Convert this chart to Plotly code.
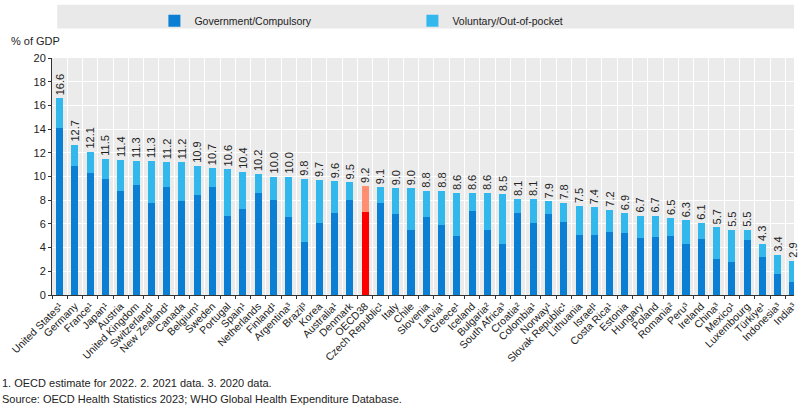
import plotly.graph_objects as go

countries = ["United States¹", "Germany", "France¹", "Japan¹", "Austria", "United Kingdom",
             "Switzerland¹", "New Zealand¹", "Canada", "Belgium¹", "Sweden", "Portugal",
             "Spain¹", "Netherlands", "Finland¹", "Argentina³", "Brazil³", "Korea",
             "Australia¹", "Denmark", "OECD38", "Czech Republic¹", "Italy", "Chile",
             "Slovenia", "Latvia¹", "Greece¹", "Iceland", "Bulgaria²", "South Africa³",
             "Croatia²", "Colombia¹", "Norway¹", "Slovak Republic¹", "Lithuania", "Israel¹",
             "Costa Rica¹", "Estonia", "Hungary", "Poland", "Romania²", "Peru³", "Ireland",
             "China³", "Mexico¹", "Luxembourg", "Türkiye¹", "Indonesia³", "India³"]

total = [16.6, 12.7, 12.1, 11.5, 11.4, 11.3, 11.3, 11.2, 11.2, 10.9, 10.7, 10.6,
         10.4, 10.2, 10.0, 10.0, 9.8, 9.7, 9.6, 9.5, 9.2, 9.1, 9.0, 9.0,
         8.8, 8.8, 8.6, 8.6, 8.6, 8.5, 8.1, 8.1, 7.9, 7.8, 7.5, 7.4,
         7.2, 6.9, 6.7, 6.7, 6.5, 6.3, 6.1, 5.7, 5.5, 5.5, 4.3, 3.4, 2.9]

government = [14.1, 10.9, 10.3, 9.8, 8.8, 9.3, 7.8, 9.1, 7.9, 8.4, 9.1, 6.7,
              7.3, 8.6, 8.0, 6.6, 4.5, 6.1, 6.9, 8.0, 7.0, 7.8, 6.8, 5.5,
              6.6, 5.9, 5.0, 7.1, 5.5, 4.3, 6.9, 6.1, 6.8, 6.2, 5.1, 5.1,
              5.3, 5.2, 4.8, 4.9, 5.0, 4.3, 4.7, 3.0, 2.8, 4.6, 3.2, 1.8, 1.1]

voluntary = [round(t - g, 2) for t, g in zip(total, government)]
labels = [f"{t:.1f}" for t in total]

GOV = "#0a7fd4"
VOL = "#33b8ee"
GOV_HL = "#ff0000"
VOL_HL = "#ff8f70"

gov_colors = [GOV_HL if c == "OECD38" else GOV for c in countries]
vol_colors = [VOL_HL if c == "OECD38" else VOL for c in countries]

fig = go.Figure()
fig.add_trace(go.Bar(x=countries, y=government, name="Government/Compulsory",
                     marker=dict(color=gov_colors, line=dict(width=0)),
                     width=0.46))
fig.add_trace(go.Bar(x=countries, y=voluntary, name="Voluntary/Out-of-pocket",
                     marker=dict(color=vol_colors, line=dict(width=0)),
                     width=0.46, text=labels, textposition="outside", textangle=-90,
                     constraintext="none",
                     textfont=dict(size=11, color="#222222"), cliponaxis=False))

fig.update_layout(
    width=798, height=412,
    barmode="stack",
    margin=dict(l=52, r=0, t=58, b=117),
    paper_bgcolor="white",
    plot_bgcolor="#ebebeb",
    font=dict(family="Liberation Sans, Arial, sans-serif", size=11, color="#222222"),
    showlegend=True,
    legend=dict(orientation="h", x=0.138, xanchor="left", y=0.985, yanchor="top",
                yref="container", entrywidth=213, entrywidthmode="pixels",
                bgcolor="rgba(0,0,0,0)", font=dict(size=10.5), traceorder="normal"),
)

fig.update_xaxes(
    type="category", range=[-0.5, 48.07], tickson="boundaries",
    showgrid=True, gridcolor="white", gridwidth=1,
    showline=True, linecolor="#333333", linewidth=1,
    ticks="outside", ticklen=3, tickcolor="#333333",
    tickangle=-45, tickfont=dict(size=10.5, color="#222222"),
)
fig.update_yaxes(
    range=[0, 20], dtick=2, showgrid=True, gridcolor="white", gridwidth=1,
    showline=True, linecolor="#333333", linewidth=1,
    ticks="outside", ticklen=3, tickcolor="#333333",
    tickfont=dict(size=11, color="#222222"), zeroline=False,
)

fig.add_shape(type="rect", xref="paper", yref="paper", x0=0.007, x1=1.0,
              y0=1.125, y1=1.225, fillcolor="#e9e9e9", line=dict(width=0), layer="below")

fig.add_annotation(text="% of GDP", xref="paper", yref="paper", x=-0.022, y=1.04,
                   xanchor="center", yanchor="bottom", showarrow=False,
                   font=dict(size=11, color="#222222"))
fig.add_annotation(text="1. OECD estimate for 2022. 2. 2021 data. 3. 2020 data.",
                   xref="paper", yref="paper", x=-52/746, y=-0.37, xanchor="left",
                   yanchor="middle", showarrow=False, font=dict(size=11, color="#222222"))
fig.add_annotation(text="Source: OECD Health Statistics 2023; WHO Global Health Expenditure Database.",
                   xref="paper", yref="paper", x=-52/746, y=-0.44, xanchor="left",
                   yanchor="middle", showarrow=False, font=dict(size=11, color="#222222"))

fig.write_html("out.html")
